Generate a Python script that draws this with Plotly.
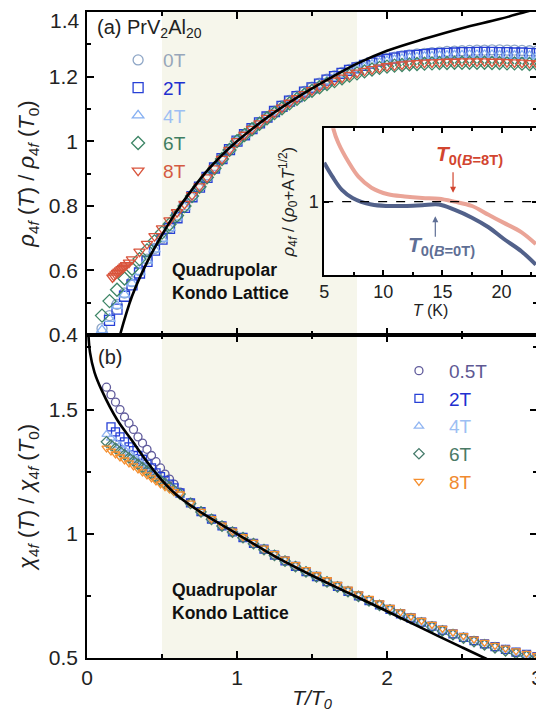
import plotly.graph_objects as go

FONT = "Liberation Sans, Arial, sans-serif"

# ---------------- Panel (a): resistivity ----------------
xa = [0.10, 0.15, 0.20, 0.25, 0.30, 0.35, 0.40, 0.45, 0.50, 0.55, 0.60, 0.65, 0.70, 0.75, 0.80,
      0.85, 0.90, 0.95, 1.00, 1.05, 1.10, 1.15, 1.20, 1.25, 1.30, 1.35, 1.40, 1.45, 1.50, 1.55,
      1.60, 1.65, 1.70, 1.75, 1.80, 1.85, 1.90, 1.95, 2.00, 2.05, 2.10, 2.15, 2.20, 2.25, 2.30,
      2.35, 2.40, 2.45, 2.50, 2.55, 2.60, 2.65, 2.70, 2.75, 2.80, 2.85, 2.90, 2.95, 3.00]

rho_0T = [0.420, 0.460, 0.495, 0.530, 0.565, 0.600, 0.635, 0.668, 0.700, 0.732, 0.765, 0.797, 0.830, 0.860, 0.890,
          0.918, 0.947, 0.975, 1.000, 1.021, 1.040, 1.058, 1.076, 1.093, 1.110, 1.126, 1.140, 1.154, 1.167, 1.180,
          1.192, 1.203, 1.213, 1.222, 1.230, 1.238, 1.245, 1.251, 1.256, 1.260, 1.264, 1.267, 1.270, 1.272, 1.274,
          1.276, 1.278, 1.279, 1.280, 1.281, 1.282, 1.282, 1.283, 1.283, 1.282, 1.282, 1.281, 1.280, 1.279]
rho_2T = [None, 0.445, 0.480, 0.520, 0.555, 0.592, 0.628, 0.663, 0.697, 0.730, 0.763, 0.795, 0.828, 0.858, 0.888,
          0.917, 0.946, 0.974, 1.000, 1.020, 1.039, 1.057, 1.075, 1.092, 1.108, 1.124, 1.138, 1.152, 1.165, 1.177,
          1.189, 1.200, 1.210, 1.219, 1.227, 1.235, 1.242, 1.248, 1.253, 1.257, 1.261, 1.264, 1.266, 1.268, 1.270,
          1.271, 1.272, 1.273, 1.274, 1.274, 1.275, 1.275, 1.275, 1.274, 1.274, 1.273, 1.273, 1.272, 1.271]
rho_4T = [0.415, 0.450, 0.490, 0.525, 0.560, 0.595, 0.630, 0.665, 0.698, 0.731, 0.764, 0.796, 0.829, 0.859, 0.889,
          0.917, 0.946, 0.974, 1.000, 1.020, 1.039, 1.057, 1.074, 1.091, 1.107, 1.122, 1.136, 1.150, 1.162, 1.174,
          1.185, 1.196, 1.206, 1.215, 1.223, 1.230, 1.237, 1.243, 1.248, 1.252, 1.255, 1.258, 1.260, 1.262, 1.263,
          1.264, 1.265, 1.266, 1.266, 1.267, 1.267, 1.267, 1.267, 1.266, 1.266, 1.265, 1.265, 1.264, 1.263]
rho_6T = [0.460, 0.505, 0.540, 0.575, 0.605, 0.635, 0.662, 0.690, 0.717, 0.743, 0.770, 0.799, 0.830, 0.859, 0.888,
          0.916, 0.945, 0.973, 1.000, 1.019, 1.037, 1.054, 1.071, 1.087, 1.102, 1.117, 1.131, 1.144, 1.156, 1.167,
          1.177, 1.186, 1.195, 1.203, 1.210, 1.216, 1.222, 1.227, 1.231, 1.234, 1.236, 1.238, 1.239, 1.240, 1.241,
          1.242, 1.242, 1.243, 1.243, 1.243, 1.243, 1.243, 1.242, 1.242, 1.241, 1.241, 1.240, 1.239, 1.238]

xa_8T = [0.17, 0.18, 0.19, 0.20, 0.21, 0.22, 0.23, 0.24, 0.25, 0.26, 0.28, 0.30, 0.35, 0.40, 0.45,
         0.50, 0.55, 0.60, 0.65, 0.70, 0.75, 0.80, 0.85, 0.90, 0.95, 1.00, 1.05, 1.10, 1.15, 1.20,
         1.25, 1.30, 1.35, 1.40, 1.45, 1.50, 1.55, 1.60, 1.65, 1.70, 1.75, 1.80, 1.85, 1.90, 1.95,
         2.00, 2.05, 2.10, 2.15, 2.20, 2.25, 2.30, 2.35, 2.40, 2.45, 2.50, 2.55, 2.60, 2.65, 2.70,
         2.75, 2.80, 2.85, 2.90, 2.95, 3.00]
rho_8T = [0.578, 0.583, 0.588, 0.592, 0.596, 0.600, 0.604, 0.608, 0.612, 0.616, 0.624, 0.634, 0.658, 0.682, 0.706,
          0.730, 0.755, 0.780, 0.806, 0.833, 0.860, 0.888, 0.916, 0.945, 0.973, 1.000, 1.020, 1.038, 1.055, 1.072,
          1.088, 1.104, 1.119, 1.133, 1.146, 1.158, 1.169, 1.179, 1.188, 1.197, 1.205, 1.212, 1.218, 1.223, 1.228,
          1.232, 1.235, 1.238, 1.240, 1.242, 1.243, 1.244, 1.245, 1.246, 1.246, 1.247, 1.247, 1.247, 1.247, 1.246,
          1.246, 1.245, 1.244, 1.243, 1.242, 1.240]

fit_a_x = [0.22, 0.30, 0.40, 0.50, 0.60, 0.70, 0.80, 0.90, 1.00, 1.20, 1.40, 1.60, 1.80, 2.00, 2.25, 2.50, 2.75, 2.92, 3.00]
fit_a_y = [0.400, 0.520, 0.625, 0.710, 0.785, 0.850, 0.908, 0.957, 1.000, 1.073, 1.135, 1.190, 1.240, 1.280, 1.317, 1.350, 1.378, 1.400, 1.410]

rho_ticks = [0.4, 0.6, 0.8, 1.0, 1.2, 1.4]
rho_ticktext = ["0.4", "0.6", "0.8", "1", "1.2", ""]   # top label drawn as annotation so it is not clipped

# ---------------- Panel (b): susceptibility ----------------
xb = [0.13, 0.16, 0.19, 0.22, 0.25, 0.28, 0.31, 0.34, 0.37, 0.40, 0.43, 0.46, 0.49, 0.52, 0.55, 0.58,
      0.62, 0.69, 0.76, 0.83, 0.90, 0.97, 1.04, 1.11, 1.18, 1.25, 1.32, 1.39, 1.46, 1.53, 1.60, 1.67,
      1.74, 1.81, 1.88, 1.95, 2.02, 2.09, 2.16, 2.23, 2.30, 2.37, 2.44, 2.51, 2.58, 2.65, 2.72, 2.79,
      2.86, 2.93, 3.00]

chi_05T = [1.590, 1.560, 1.530, 1.500, 1.470, 1.445, 1.420, 1.390, 1.365, 1.340, 1.315, 1.290, 1.265, 1.240, 1.220, 1.200,
           1.168, 1.126, 1.090, 1.060, 1.033, 1.009, 0.985, 0.961, 0.937, 0.914, 0.891, 0.869, 0.848, 0.827, 0.807, 0.787,
           0.768, 0.749, 0.731, 0.713, 0.695, 0.677, 0.659, 0.642, 0.626, 0.610, 0.596, 0.582, 0.569, 0.556, 0.544, 0.533,
           0.522, 0.512, 0.503]
chi_2T = [None, 1.430, 1.410, 1.390, 1.370, 1.350, 1.335, 1.315, 1.300, 1.280, 1.265, 1.245, 1.230, 1.215, 1.200, 1.185,
          1.164, 1.124, 1.089, 1.059, 1.032, 1.008, 0.985, 0.961, 0.938, 0.914, 0.891, 0.869, 0.848, 0.828, 0.807, 0.788,
          0.768, 0.750, 0.731, 0.714, 0.696, 0.678, 0.661, 0.644, 0.628, 0.612, 0.597, 0.583, 0.570, 0.557, 0.546, 0.535,
          0.524, 0.514, 0.505]
chi_4T = [1.400, 1.385, 1.370, 1.355, 1.340, 1.325, 1.310, 1.295, 1.280, 1.265, 1.250, 1.235, 1.220, 1.205, 1.190, 1.178,
          1.162, 1.124, 1.090, 1.060, 1.033, 1.009, 0.986, 0.962, 0.938, 0.915, 0.892, 0.870, 0.849, 0.828, 0.808, 0.788,
          0.769, 0.750, 0.732, 0.714, 0.696, 0.678, 0.661, 0.644, 0.628, 0.612, 0.598, 0.584, 0.570, 0.558, 0.546, 0.535,
          0.524, 0.514, 0.505]
chi_6T = [1.370, 1.357, 1.344, 1.331, 1.318, 1.305, 1.292, 1.279, 1.266, 1.253, 1.240, 1.227, 1.214, 1.201, 1.188, 1.175,
          1.160, 1.122, 1.088, 1.058, 1.031, 1.007, 0.984, 0.960, 0.936, 0.913, 0.890, 0.868, 0.847, 0.826, 0.806, 0.786,
          0.767, 0.748, 0.730, 0.712, 0.694, 0.676, 0.658, 0.641, 0.625, 0.609, 0.594, 0.580, 0.566, 0.553, 0.541, 0.529,
          0.518, 0.507, 0.497]
chi_8T = [1.345, 1.333, 1.321, 1.309, 1.297, 1.285, 1.273, 1.261, 1.249, 1.237, 1.225, 1.213, 1.201, 1.190, 1.180, 1.170,
          1.160, 1.123, 1.090, 1.061, 1.035, 1.011, 0.988, 0.965, 0.942, 0.920, 0.898, 0.876, 0.856, 0.835, 0.815, 0.796,
          0.777, 0.758, 0.740, 0.722, 0.704, 0.686, 0.668, 0.651, 0.635, 0.619, 0.604, 0.590, 0.576, 0.563, 0.551, 0.540,
          0.529, 0.519, 0.510]

fit_b_x = [0.008, 0.02, 0.05, 0.10, 0.20, 0.30, 0.40, 0.50, 0.60, 0.75, 1.00, 1.25, 1.50, 1.75, 2.00, 2.25, 2.50, 2.65, 2.70]
fit_b_y = [1.820, 1.730, 1.650, 1.575, 1.460, 1.375, 1.290, 1.215, 1.155, 1.090, 1.000, 0.910, 0.832, 0.760, 0.688, 0.615, 0.543, 0.500, 0.486]

# ---------------- Inset ----------------
ins_T_0T = [5.0, 5.7, 6.5, 7.4, 9.0, 10.5, 11.8, 13.3, 14.7, 16.0, 17.5, 18.9, 20.2, 21.7, 22.9]
ins_0T = [1.053, 1.034, 1.016, 1.005, 0.996, 0.994, 0.994, 0.995, 0.996, 0.989, 0.978, 0.965, 0.949, 0.932, 0.914]
ins_T_8T = [5.6, 5.8, 6.2, 7.1, 7.9, 9.0, 10.4, 11.8, 13.3, 14.7, 16.0, 17.5, 18.9, 20.2, 21.7, 22.9]
ins_8T = [1.120, 1.098, 1.080, 1.053, 1.034, 1.019, 1.010, 1.007, 1.005, 1.004, 1.000, 0.994, 0.982, 0.971, 0.958, 0.942]

T0_8T = 15.9
T0_0T = 14.4

# ---------------- colours / styles ----------------
a_series = [
    ("0T", xa, rho_0T, "circle-open", "#8ea6c6", "#97a6ba"),
    ("2T", xa, rho_2T, "square-open", "#2740d6", "#1f30d0"),
    ("4T", xa, rho_4T, "triangle-up-open", "#86b0f2", "#9dbff3"),
    ("6T", xa, rho_6T, "diamond-open", "#3d8566", "#3f7e62"),
    ("8T", xa_8T, rho_8T, "triangle-down-open", "#d9543c", "#d45a42"),
]
b_series = [
    ("0.5T", xb, chi_05T, "circle-open", "#615c9c", "#5e5893"),
    ("2T", xb, chi_2T, "square-open", "#2740d6", "#1f30d0"),
    ("4T", xb, chi_4T, "triangle-up-open", "#92b6f2", "#9dbff3"),
    ("6T", xb, chi_6T, "diamond-open", "#477c6c", "#4a7a66"),
    ("8T", xb, chi_8T, "triangle-down-open", "#f58f2f", "#f08a30"),
]

fig = go.Figure()

for name, x, y, sym, col, tcol in a_series:
    fig.add_trace(go.Scatter(
        x=x, y=y, mode="markers", xaxis="x", yaxis="y", legend="legend",
        name=f"<span style='color:{tcol}'>{name}</span>",
        marker=dict(symbol=sym, size=10, color=col, line=dict(width=1.3, color=col)),
    ))
fig.add_trace(go.Scatter(x=fit_a_x, y=fit_a_y, mode="lines", xaxis="x", yaxis="y",
                         line=dict(color="black", width=2.6, shape="spline"), showlegend=False))

for name, x, y, sym, col, tcol in b_series:
    fig.add_trace(go.Scatter(
        x=x, y=y, mode="markers", xaxis="x2", yaxis="y2", legend="legend2",
        name=f"<span style='color:{tcol}'>{name}</span>",
        marker=dict(symbol=sym, size=8, color=col, line=dict(width=1.3, color=col)),
    ))
fig.add_trace(go.Scatter(x=fit_b_x, y=fit_b_y, mode="lines", xaxis="x2", yaxis="y2",
                         line=dict(color="black", width=2.6, shape="spline"), showlegend=False))

# inset curves
fig.add_trace(go.Scatter(x=ins_T_0T, y=ins_0T, mode="lines", xaxis="x3", yaxis="y3",
                         line=dict(color="#52618a", width=4, shape="spline"), showlegend=False))
fig.add_trace(go.Scatter(x=ins_T_8T, y=ins_8T, mode="lines", xaxis="x3", yaxis="y3",
                         line=dict(color="#eaa497", width=4, shape="spline"), showlegend=False))

axis_common = dict(showline=True, linecolor="black", linewidth=1.5, mirror="ticks",
                   ticks="inside", ticklen=7, tickwidth=1.5, tickcolor="black",
                   showgrid=False, zeroline=False, automargin=False, ticklabeloverflow="allow",
                   tickfont=dict(family=FONT, size=21, color="#222"))

shapes = [
    dict(type="rect", xref="x", yref="y domain", x0=0.5, x1=1.8, y0=0, y1=1,
         fillcolor="#f6f6eb", line=dict(width=0), layer="below"),
    dict(type="rect", xref="x2", yref="y2 domain", x0=0.5, x1=1.8, y0=0, y1=1,
         fillcolor="#f6f6eb", line=dict(width=0), layer="below"),
    dict(type="rect", xref="x3 domain", yref="y3 domain", x0=0, x1=1, y0=0, y1=1,
         fillcolor="white", line=dict(width=0), layer="below"),
    dict(type="line", xref="x3 domain", yref="y3", x0=0, x1=1, y0=1, y1=1,
         line=dict(color="black", width=1.3, dash="dash")),
]

ann = [
    dict(text="1.4", xref="paper", yref="paper", x=-0.012, y=1, xanchor="right", yanchor="top",
         yshift=5, showarrow=False, font=dict(family=FONT, size=21, color="#222")),
    dict(text="(a) PrV<sub>2</sub>Al<sub>20</sub>", xref="x", yref="y", x=0.05, y=1.35,
         xanchor="left", yanchor="middle", showarrow=False, font=dict(family=FONT, size=20, color="#222")),
    dict(text="(b)", xref="x2", yref="y2", x=0.06, y=1.71,
         xanchor="left", yanchor="middle", showarrow=False, font=dict(family=FONT, size=20, color="#222")),
    dict(text="<b>Quadrupolar<br>Kondo Lattice</b>", xref="x", yref="y", x=0.55, y=0.567,
         xanchor="left", yanchor="middle", align="left", showarrow=False,
         font=dict(family=FONT, size=17.5, color="#111")),
    dict(text="<b>Quadrupolar<br>Kondo Lattice</b>", xref="x2", yref="y2", x=0.55, y=0.727,
         xanchor="left", yanchor="middle", align="left", showarrow=False,
         font=dict(family=FONT, size=17.5, color="#111")),
    # inset arrows
    dict(xref="x3", yref="y3", x=T0_8T, y=1.012, ax=0, ay=-22, text="", showarrow=True,
         arrowhead=2, arrowsize=1, arrowwidth=1.2, arrowcolor="#d2452f"),
    dict(xref="x3", yref="y3", x=T0_0T, y=0.980, ax=0, ay=22, text="", showarrow=True,
         arrowhead=2, arrowsize=1, arrowwidth=1.2, arrowcolor="#5f6f95"),
    dict(text="<b><i>T</i></b><sub><b>0(<i>B</i>=8T)</b></sub>", xref="x3", yref="y3", x=17.3, y=1.064,
         showarrow=False, font=dict(family=FONT, size=21, color="#d2452f")),
    dict(text="<b><i>T</i></b><sub><b>0(<i>B</i>=0T)</b></sub>", xref="x3", yref="y3", x=14.9, y=0.939,
         showarrow=False, font=dict(family=FONT, size=21, color="#5f6f95")),
]

# The page body adds an 8 px offset, so the figure is 8 px smaller and margins shifted.
fig.update_layout(
    width=536, height=711,
    margin=dict(l=79, r=7, t=4, b=61),
    paper_bgcolor="white", plot_bgcolor="white",
    font=dict(family=FONT, color="#222"),
    shapes=shapes, annotations=ann,
    xaxis=dict(axis_common, domain=[0, 1], range=[0, 3], anchor="y", dtick=1, tick0=0,
               showticklabels=False, minor=dict(dtick=0.5, ticks="inside", ticklen=4, tickcolor="black")),
    yaxis=dict(axis_common, domain=[0.5, 1], range=[0.4, 1.4], anchor="x",
               tickvals=rho_ticks, ticktext=rho_ticktext,
               ticklabelstandoff=3,
               minor=dict(dtick=0.1, tick0=0.4, ticks="inside", ticklen=4, tickcolor="black"),
               title=dict(text="<i>ρ</i><sub>4<i>f</i></sub> (<i>T</i>) / <i>ρ</i><sub>4<i>f</i></sub> (<i>T</i><sub>0</sub>)",
                          font=dict(family=FONT, size=22, color="#222"), standoff=8)),
    xaxis2=dict(axis_common, domain=[0, 1], range=[0, 3], anchor="y2", dtick=1, tick0=0,
                ticklabelstandoff=0,
                minor=dict(dtick=0.5, ticks="inside", ticklen=4, tickcolor="black"),
                title=dict(text="<i>T/T</i><sub><i>0</i></sub>", font=dict(family=FONT, size=21, color="#222"),
                           standoff=2)),
    yaxis2=dict(axis_common, domain=[0, 0.5], range=[0.5, 1.8], anchor="x2", dtick=0.5, tick0=0.5,
                ticklabelstandoff=3,
                minor=dict(dtick=0.25, ticks="inside", ticklen=4, tickcolor="black"),
                title=dict(text="<i>χ</i><sub>4<i>f</i></sub> (<i>T</i>) / <i>χ</i><sub>4<i>f</i></sub> (<i>T</i><sub>0</sub>)",
                           font=dict(family=FONT, size=22, color="#222"), standoff=8)),
    xaxis3=dict(axis_common, domain=[0.527, 1.0], range=[5, 23], anchor="y3", dtick=5, tick0=5,
                ticklen=5, tickfont=dict(family=FONT, size=18, color="#222"), ticklabelstandoff=0,
                minor=dict(dtick=2.5, ticks="inside", ticklen=3, tickcolor="black"),
                title=dict(text="<i>T</i> (K)", font=dict(family=FONT, size=16, color="#222"), standoff=2)),
    yaxis3=dict(axis_common, domain=[0.593, 0.820], range=[0.9, 1.1], anchor="x3", tickvals=[1],
                ticklen=5, tickfont=dict(family=FONT, size=18, color="#222"),
                title=dict(text="<i>ρ</i><sub>4<i>f</i></sub> / (<i>ρ</i><sub>0</sub>+A<i>T</i><sup>1/2</sup>)",
                           font=dict(family=FONT, size=17, color="#222"), standoff=10)),
    legend=dict(x=0.058, y=0.955, xanchor="left", yanchor="top", bgcolor="rgba(0,0,0,0)",
                font=dict(family=FONT, size=19), tracegroupgap=0, itemclick=False, itemwidth=40),
    legend2=dict(x=0.671, y=0.474, xanchor="left", yanchor="top", bgcolor="rgba(0,0,0,0)",
                 font=dict(family=FONT, size=19), tracegroupgap=0, itemclick=False, itemwidth=50),
)

fig.write_html("out.html")
